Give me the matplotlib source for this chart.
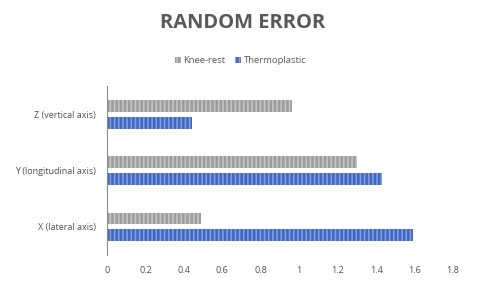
import matplotlib.pyplot as plt
import numpy as np

categories = ["X (lateral axis)", "Y (longitudinal axis)", "Z (vertical axis)"]
knee_rest = [0.49, 1.30, 0.96]
thermoplastic = [1.59, 1.43, 0.44]
xticks = [0, 0.2, 0.4, 0.6, 0.8, 1, 1.2, 1.4, 1.6, 1.8]

plt.rcParams['font.family'] = ['Open Sans', 'DejaVu Sans']
plt.rcParams['hatch.linewidth'] = 1.2

fig = plt.figure(figsize=(4.91, 2.98), dpi=100)
ax = fig.add_axes([0.218, 0.144, 0.7046, 0.567])

y = np.arange(len(categories))
h = 0.21
ax.barh(y + 0.15, knee_rest, height=h, color="#9c9c9c", edgecolor="#c4c4c4",
        linewidth=0, hatch="||||", label="Knee-rest")
ax.barh(y - 0.15, thermoplastic, height=h, color="#3f66c0", edgecolor="#7f9ee0",
        linewidth=0, hatch="||||", label="Thermoplastic")

ax.set_xlim(0, 1.8)
ax.set_ylim(-0.5, 2.5)
ax.set_xticks(xticks)
ax.set_xticklabels([str(t) for t in xticks])
ax.set_yticks(y)
ax.set_yticklabels(categories)
ax.tick_params(length=0, labelsize=6.5, colors="#505050", pad=8)
for s in ["top", "right", "bottom"]:
    ax.spines[s].set_visible(False)
ax.spines["left"].set_color("#8c8c8c")
ax.spines["left"].set_linewidth(0.8)

fig.suptitle("RANDOM ERROR", x=0.495, y=0.955, fontsize=14.5, fontweight="bold", color="#595959")
fig.legend(loc="center", bbox_to_anchor=(0.49, 0.797), ncol=2, frameon=False,
           fontsize=6.8, labelcolor="#595959", handlelength=0.6, handleheight=0.6,
           handletextpad=0.3, columnspacing=1.0)

fig.savefig("out.png", dpi=100)
